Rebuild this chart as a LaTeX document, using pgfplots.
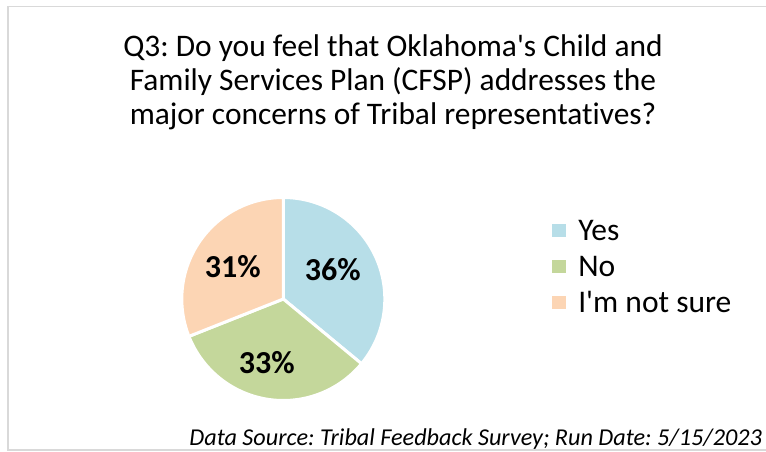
\documentclass[border=0pt]{standalone}
\usepackage{fontspec}
\setmainfont{Carlito}[Ligatures={TeXOff,CommonOff}]
\usepackage{pgfplots}
\pgfplotsset{compat=1.18}
\definecolor{cyes}{HTML}{B7DEE8}
\definecolor{cno}{HTML}{C4D79B}
\definecolor{cns}{HTML}{FCD5B4}
\definecolor{cframe}{HTML}{D9D9D9}
\frenchspacing
% data (percent)
\def\vYes{36}
\def\vNo{33}
\def\vNS{31}
\pgfmathsetmacro\aA{90}
\pgfmathsetmacro\aB{90-3.6*\vYes}
\pgfmathsetmacro\aC{\aB-3.6*\vNo}
\pgfmathsetmacro\aD{\aC-3.6*\vNS}
\def\cx{283.3}
\def\cy{152}
\def\R{101.5}
\begin{document}
\begin{tikzpicture}[x=1pt,y=1pt]
\useasboundingbox (0,0) rectangle (766,451);
\draw[cframe, line width=1.5pt] (8,1) rectangle (768,444.5);
\begin{axis}[
  anchor=origin, at={(0,0)},
  x=1pt, y=1pt, scale only axis,
  xmin=0, xmax=766, ymin=0, ymax=451,
  hide axis, clip=false,
  legend image code/.code={\fill[#1, draw=none] (0pt,-6.7pt) rectangle (13.4pt,6.7pt);},
  legend cell align=left,
  legend style={font=\fontsize{31.5}{36}\selectfont, draw=none, fill=none,
    inner sep=0pt, outer sep=0pt, at={(axis cs:552.3,238.3)}, anchor=north west,
    row sep=0pt, nodes={inner sep=0pt, outer sep=0pt},
    /tikz/every odd column/.append style={column sep=12.6pt},
    /tikz/every even column/.append style={nodes={text height=27.3pt, text depth=8.7pt}}},
]
\addplot[fill=cyes, draw=white, line width=3pt, domain=\aA:\aB, samples=80, variable=\t]
  ({\cx+\R*cos(\t)},{\cy+\R*sin(\t)}) -- (axis cs:\cx,\cy) -- cycle;
\addplot[fill=cno, draw=white, line width=3pt, domain=\aB:\aC, samples=80, variable=\t]
  ({\cx+\R*cos(\t)},{\cy+\R*sin(\t)}) -- (axis cs:\cx,\cy) -- cycle;
\addplot[fill=cns, draw=white, line width=3pt, domain=\aC:\aD, samples=80, variable=\t]
  ({\cx+\R*cos(\t)},{\cy+\R*sin(\t)}) -- (axis cs:\cx,\cy) -- cycle;
\legend{Yes, No, I'm not sure}
\node[anchor=base, font=\fontsize{32}{38}\selectfont\bfseries, inner sep=0pt] at (axis cs:332.7,170.9) {36\%};
\node[anchor=base, font=\fontsize{32}{38}\selectfont\bfseries, inner sep=0pt] at (axis cs:266.7,77.6) {33\%};
\node[anchor=base, font=\fontsize{32}{38}\selectfont\bfseries, inner sep=0pt] at (axis cs:232.7,173.2) {31\%};
\node[anchor=base, inner sep=0pt, font=\fontsize{31.4}{34}\selectfont] at (axis cs:393,394.3)
  {Q3: Do you feel that Oklahoma's Child and};
\node[anchor=base, inner sep=0pt, font=\fontsize{31.4}{34}\selectfont] at (axis cs:393,360.3)
  {Family Services Plan (CFSP) addresses the};
\node[anchor=base, inner sep=0pt, font=\fontsize{31.4}{34}\selectfont] at (axis cs:393,326.3)
  {major concerns of Tribal representatives?};
\node[anchor=base east, inner sep=0pt, font=\fontsize{24.2}{28}\selectfont\itshape] at (axis cs:762,5.8)
  {Data Source: Tribal Feedback Survey; Run Date: 5/15/2023};
\end{axis}
\end{tikzpicture}
\end{document}
